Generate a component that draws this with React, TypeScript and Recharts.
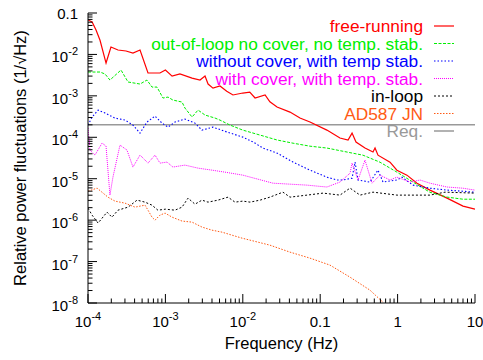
import { LineChart, Line, XAxis, YAxis, ReferenceLine } from "recharts";

const FONT = '"Liberation Sans", Arial, Helvetica, sans-serif';

// axis decades and their labels ("^" marks a superscript)
const xMajor = [1e-4, 1e-3, 1e-2, 0.1, 1, 10];
const xMajorLabels = ["10^-4", "10^-3", "10^-2", "0.1", "1", "10"];
const yMajor = [1e-8, 1e-7, 1e-6, 1e-5, 1e-4, 1e-3, 1e-2, 0.1];
const yMajorLabels = ["10^-8", "10^-7", "10^-6", "10^-5", "10^-4", "10^-3", "10^-2", "0.1"];
const minorSteps = [2, 3, 4, 5, 6, 7, 8, 9];

const reqLevel = 2e-4;

// free-running
const freeFreq = [1e-4, 1.13e-4, 1.27e-4, 1.43e-4, 1.71e-4, 1.98e-4, 2.44e-4, 3.1e-4, 3.81e-4, 4.7e-4, 5.96e-4, 8.51e-4, 1e-3, 1.22e-3, 1.54e-3, 2.21e-3, 2.8e-3, 3.25e-3, 3.56e-3, 4.12e-3, 5.07e-3, 6.2e-3, 7.46e-3, 1e-2, 1.23e-2, 1.44e-2, 1.94e-2, 2.24e-2, 2.77e-2, 4.07e-2, 5.48e-2, 7.38e-2, 0.122, 0.18, 0.229, 0.258, 0.29, 0.379, 0.481, 0.511, 0.558, 0.798, 0.98, 1.32, 1.78, 2.62, 4.35, 7.0, 10];
const freeVal = [0.068, 0.061, 0.039, 0.022, 0.0062, 0.0151, 0.0128, 0.0121, 0.0108, 0.0128, 0.00356, 0.00356, 0.0042, 0.003, 0.00337, 0.00269, 0.00241, 0.003, 0.00193, 0.00154, 0.00173, 0.0013, 0.00105, 0.00117, 0.00123, 0.00089, 0.00105, 0.00072, 0.000536, 0.000406, 0.000291, 0.000233, 0.000149, 9.6e-5, 8.6e-5, 1.26e-4, 7.7e-5, 5.5e-5, 4.4e-5, 5.5e-5, 3.7e-5, 2.5e-5, 1.6e-5, 1.22e-5, 7.8e-6, 5.3e-6, 3.4e-6, 2.18e-6, 1.84e-6];

// out-of-loop no cover, no temp. stab.
const noCoverFreq = [1e-4, 1.43e-4, 1.66e-4, 1.92e-4, 2.67e-4, 3.29e-4, 4.7e-4, 5.78e-4, 6.71e-4, 7.79e-4, 9.31e-4, 1.08e-3, 1.25e-3, 1.64e-3, 1.79e-3, 2.21e-3, 2.64e-3, 3.25e-3, 4.38e-3, 5.07e-3, 6.84e-3, 1e-2, 1.67e-2, 2.77e-2, 4.46e-2, 7.38e-2, 0.122, 0.222, 0.357, 0.593, 0.98, 1.58, 2.62, 4.35, 7.0, 10];
const noCoverVal = [0.00376, 0.00376, 0.00337, 0.00241, 0.0042, 0.00216, 0.00193, 0.00241, 0.00163, 0.00163, 0.000885, 0.000935, 0.000792, 0.000708, 0.000507, 0.000308, 0.000454, 0.000344, 0.000291, 0.00026, 0.000197, 0.000149, 0.000113, 8.6e-5, 7.2e-5, 6.1e-5, 5.5e-5, 4.4e-5, 3.7e-5, 2.5e-5, 1.44e-5, 8.3e-6, 4.7e-6, 3.6e-6, 3.2e-6, 3.2e-6];

// without cover, with temp stab.
const tempStabFreq = [1e-4, 1.13e-4, 1.35e-4, 1.66e-4, 2.23e-4, 3.01e-4, 3.81e-4, 4.7e-4, 5.78e-4, 7.34e-4, 9.04e-4, 1.08e-3, 1.33e-3, 1.79e-3, 2.41e-3, 2.97e-3, 4.12e-3, 6.25e-3, 1e-2, 1.36e-2, 1.82e-2, 2.77e-2, 4.46e-2, 7.38e-2, 0.122, 0.165, 0.197, 0.258, 0.282, 0.308, 0.44, 0.558, 0.648, 0.98, 1.14, 1.58, 2.62, 4.35, 7.0, 10];
const tempStabVal = [1.97e-4, 3.08e-4, 4.54e-4, 3.84e-4, 2.91e-4, 2.6e-4, 1.97e-4, 1.26e-4, 2.33e-4, 3.25e-4, 2.2e-4, 1.76e-4, 2.33e-4, 2.75e-4, 2.2e-4, 1.49e-4, 1.76e-4, 1.34e-4, 1.01e-4, 7.7e-5, 5.5e-5, 4.15e-5, 2.52e-5, 1.61e-5, 1.09e-5, 9.3e-6, 9.3e-6, 1.03e-5, 2.52e-5, 9.3e-6, 8.3e-6, 1.61e-5, 8.3e-6, 9.3e-6, 1.09e-5, 7.0e-6, 5.9e-6, 5.3e-6, 5.0e-6, 4.7e-6];

// with cover, with temp. stab.
const coverFreq = [1e-4, 1.06e-4, 1.23e-4, 1.52e-4, 1.71e-4, 1.92e-4, 2.1e-4, 2.59e-4, 3.19e-4, 3.81e-4, 4.7e-4, 5.96e-4, 7.34e-4, 8.51e-4, 1.05e-3, 1.25e-3, 1.79e-3, 2.64e-3, 4e-3, 5.89e-3, 1e-2, 2.45e-2, 6.75e-2, 0.122, 0.18, 0.243, 0.258, 0.308, 0.379, 0.467, 0.593, 0.798, 0.98, 1.45, 1.95, 2.62, 4.35, 7.0, 10];
const coverVal = [1.67e-4, 4.91e-5, 3.72e-5, 7.24e-5, 6.13e-5, 4.02e-6, 1.09e-5, 6.48e-5, 4.91e-5, 1.91e-5, 3.72e-5, 2.38e-5, 3.72e-5, 2.38e-5, 2.52e-5, 1.91e-5, 2.13e-5, 1.8e-5, 1.61e-5, 1.44e-5, 1.22e-5, 7.8e-6, 7.0e-6, 6.3e-6, 8.3e-6, 1.36e-5, 2.38e-5, 9.3e-6, 2.81e-5, 7.8e-6, 1.22e-5, 9.3e-6, 1.09e-5, 8.3e-6, 9.3e-6, 7.8e-6, 6.3e-6, 5.9e-6, 5.3e-6];

// in-loop
const inLoopFreq = [1e-4, 1.13e-4, 1.35e-4, 1.76e-4, 2.04e-4, 2.44e-4, 3.29e-4, 4.3e-4, 5.45e-4, 6.71e-4, 8e-4, 1e-3, 1.33e-3, 1.64e-3, 1.96e-3, 2.41e-3, 2.97e-3, 3.55e-3, 4.78e-3, 6.44e-3, 7.93e-3, 1e-2, 1.24e-2, 1.67e-2, 2.24e-2, 3.3e-2, 4.07e-2, 6.75e-2, 0.109, 0.18, 0.243, 0.327, 0.481, 0.98, 2.62, 4.1, 10];
const inLoopVal = [1.95e-6, 1.32e-6, 8.5e-7, 1.56e-6, 1.18e-6, 1.74e-6, 2.06e-6, 3.04e-6, 2.72e-6, 2.3e-6, 1.74e-6, 1.84e-6, 1.74e-6, 2.06e-6, 3.4e-6, 2.43e-6, 3.04e-6, 2.72e-6, 3.04e-6, 3.59e-6, 2.72e-6, 2.88e-6, 2.72e-6, 3.04e-6, 3.59e-6, 4.74e-6, 3.59e-6, 4.02e-6, 4.49e-6, 4.02e-6, 5.93e-6, 4.02e-6, 4.74e-6, 4.02e-6, 4.02e-6, 4.74e-6, 4.49e-6];

// AD587 JN
const adFreq = [1e-4, 1.31e-4, 1.81e-4, 2.23e-4, 3.01e-4, 4.05e-4, 5.45e-4, 5.96e-4, 6.71e-4, 7.34e-4, 8.51e-4, 9.9e-4, 1.22e-3, 1.64e-3, 2.21e-3, 2.97e-3, 4e-3, 5.38e-3, 7.25e-3, 9.8e-3, 1.24e-2, 2.24e-2, 4.07e-2, 7.38e-2, 0.134, 0.243, 0.44, 0.648];
const adVal = [5e-6, 5.93e-6, 3.59e-6, 2.88e-6, 2.57e-6, 2.06e-6, 2.3e-6, 1.74e-6, 1.18e-6, 1e-6, 1.32e-6, 1.48e-6, 1.18e-6, 9.5e-7, 8.95e-7, 6.8e-7, 5.73e-7, 5.13e-7, 4.34e-7, 3.67e-7, 3.29e-7, 2.49e-7, 1.69e-7, 1.21e-7, 8.2e-8, 4.2e-8, 2.04e-8, 1.04e-8];

const zip = (f: number[], v: number[]) => f.map((x, i) => ({ f: x, v: v[i] }));

const withMinors = (majors: number[]) => {
  const out: number[] = [];
  majors.forEach((m, i) => {
    out.push(m);
    if (i < majors.length - 1) minorSteps.forEach((k) => out.push(m * k));
  });
  return out;
};

const xTicks = withMinors(xMajor);
const yTicks = withMinors(yMajor);

const series = [
  { name: "free-running", color: "#ff0000", dash: undefined, width: 1.2, data: zip(freeFreq, freeVal) },
  { name: "out-of-loop no cover, no temp. stab.", color: "#00ee00", dash: "3 1.5", width: 1, data: zip(noCoverFreq, noCoverVal) },
  { name: "without cover, with temp stab.", color: "#0000ff", dash: "1.5 2", width: 1.1, data: zip(tempStabFreq, tempStabVal) },
  { name: "with cover, with temp. stab.", color: "#ff00ff", dash: "1 1", width: 1, data: zip(coverFreq, coverVal) },
  { name: "in-loop", color: "#000000", dash: "2 2", width: 1, data: zip(inLoopFreq, inLoopVal) },
  { name: "AD587 JN", color: "#ff5a14", dash: "1.5 1.5", width: 1, data: zip(adFreq, adVal) },
];
const reqColor = "#999999";

function TickLabel({ x, y, text, anchor }: { x: number; y: number; text: string; anchor: string }) {
  const [base, sup] = text.split("^");
  return (
    <text x={x} y={y} textAnchor={anchor} fontFamily={FONT} fontSize={15} fill="#000">
      {base}
      {sup && (
        <tspan fontSize={11} dy={-7}>
          {sup}
        </tspan>
      )}
    </text>
  );
}

function LogTick(props: any) {
  const { x, y, payload, side, majors, labels } = props;
  const v = payload.value;
  const idx = majors.findIndex((m: number) => Math.abs(m - v) / m < 1e-6);
  const len = idx >= 0 ? 9 : 4.5;
  const label = idx >= 0 ? labels?.[idx] : undefined;
  let line;
  if (side === "left") line = <line x1={x} y1={y} x2={x + len} y2={y} stroke="#000" />;
  else if (side === "right") line = <line x1={x} y1={y} x2={x - len} y2={y} stroke="#000" />;
  else if (side === "bottom") line = <line x1={x} y1={y} x2={x} y2={y - len} stroke="#000" />;
  else line = <line x1={x} y1={y} x2={x} y2={y + len} stroke="#000" />;
  return (
    <g>
      {line}
      {label && side === "left" && (
        <TickLabel x={x - 10} y={y + (label.includes("^") ? 8 : 5.5)} text={label} anchor="end" />
      )}
      {label && side === "bottom" && <TickLabel x={x} y={y + 23.5} text={label} anchor="middle" />}
    </g>
  );
}

const yLabel = (p: any) => {
  const vb = p.viewBox;
  const cx = vb.x + 26;
  const cy = vb.y + vb.height / 2;
  return (
    <text x={cx} y={cy} transform={`rotate(-90 ${cx} ${cy})`} textAnchor="middle" fontFamily={FONT} fontSize={16.5} fill="#000">
      Relative power fluctuations (1/√Hz)
    </text>
  );
};

const xLabel = (p: any) => {
  const vb = p.viewBox;
  return (
    <text x={vb.x + vb.width / 2} y={349} textAnchor="middle" fontFamily={FONT} fontSize={16.5} fill="#000">
      Frequency (Hz)
    </text>
  );
};

function KeyOverlay() {
  const rows = [...series.map((s) => ({ name: s.name, color: s.color, dash: s.dash, width: s.width })), { name: "Req.", color: reqColor, dash: undefined, width: 1.5 }];
  return (
    <svg width={483} height={360} style={{ position: "absolute", left: 0, top: 0, pointerEvents: "none" }}>
      {rows.map((r, i) => {
        const cy = 26 + i * 17.5;
        return (
          <g key={r.name}>
            <text x={423} y={cy + 6} textAnchor="end" fontFamily={FONT} fontSize={17.3} fill={r.color}>
              {r.name}
            </text>
            <line x1={434} y1={cy} x2={454} y2={cy} stroke={r.color} strokeWidth={r.width} strokeDasharray={r.dash} />
          </g>
        );
      })}
    </svg>
  );
}

export default function App() {
  return (
    <div style={{ position: "absolute", left: 0, top: 0, width: 483, height: 360, background: "#fff" }}>
      <LineChart width={483} height={360} margin={{ top: 13, right: 8, bottom: 0, left: 0 }}>
        <XAxis
          xAxisId="bottom"
          dataKey="f"
          type="number"
          scale="log"
          domain={[1e-4, 10]}
          allowDataOverflow
          ticks={xTicks}
          interval={0}
          height={57}
          tickSize={0}
          tickMargin={0}
          tickLine={false}
          axisLine={{ stroke: "#000" }}
          tick={(p: any) => <LogTick {...p} side="bottom" majors={xMajor} labels={xMajorLabels} />}
          label={xLabel}
        />
        <XAxis
          xAxisId="top"
          dataKey="f"
          type="number"
          scale="log"
          orientation="top"
          domain={[1e-4, 10]}
          allowDataOverflow
          ticks={xTicks}
          interval={0}
          height={0}
          tickSize={0}
          tickMargin={0}
          tickLine={false}
          axisLine={{ stroke: "#000" }}
          tick={(p: any) => <LogTick {...p} side="top" majors={xMajor} />}
        />
        <YAxis
          yAxisId="left"
          type="number"
          scale="log"
          domain={[1e-8, 0.1]}
          allowDataOverflow
          ticks={yTicks}
          interval={0}
          width={88}
          tickSize={0}
          tickMargin={0}
          tickLine={false}
          axisLine={{ stroke: "#000" }}
          tick={(p: any) => <LogTick {...p} side="left" majors={yMajor} labels={yMajorLabels} />}
          label={yLabel}
        />
        <YAxis
          yAxisId="right"
          orientation="right"
          type="number"
          scale="log"
          domain={[1e-8, 0.1]}
          allowDataOverflow
          ticks={yTicks}
          interval={0}
          width={0}
          tickSize={0}
          tickMargin={0}
          tickLine={false}
          axisLine={{ stroke: "#000" }}
          tick={(p: any) => <LogTick {...p} side="right" majors={yMajor} />}
        />
        <ReferenceLine xAxisId="bottom" yAxisId="left" y={reqLevel} stroke={reqColor} strokeWidth={1.5} />
        {series.map((s) => (
          <Line
            key={s.name}
            xAxisId="bottom"
            yAxisId="left"
            data={s.data}
            dataKey="v"
            name={s.name}
            type="linear"
            stroke={s.color}
            strokeWidth={s.width}
            strokeDasharray={s.dash}
            dot={false}
            activeDot={false}
            isAnimationActive={false}
          />
        ))}
      </LineChart>
      <KeyOverlay />
    </div>
  );
}
